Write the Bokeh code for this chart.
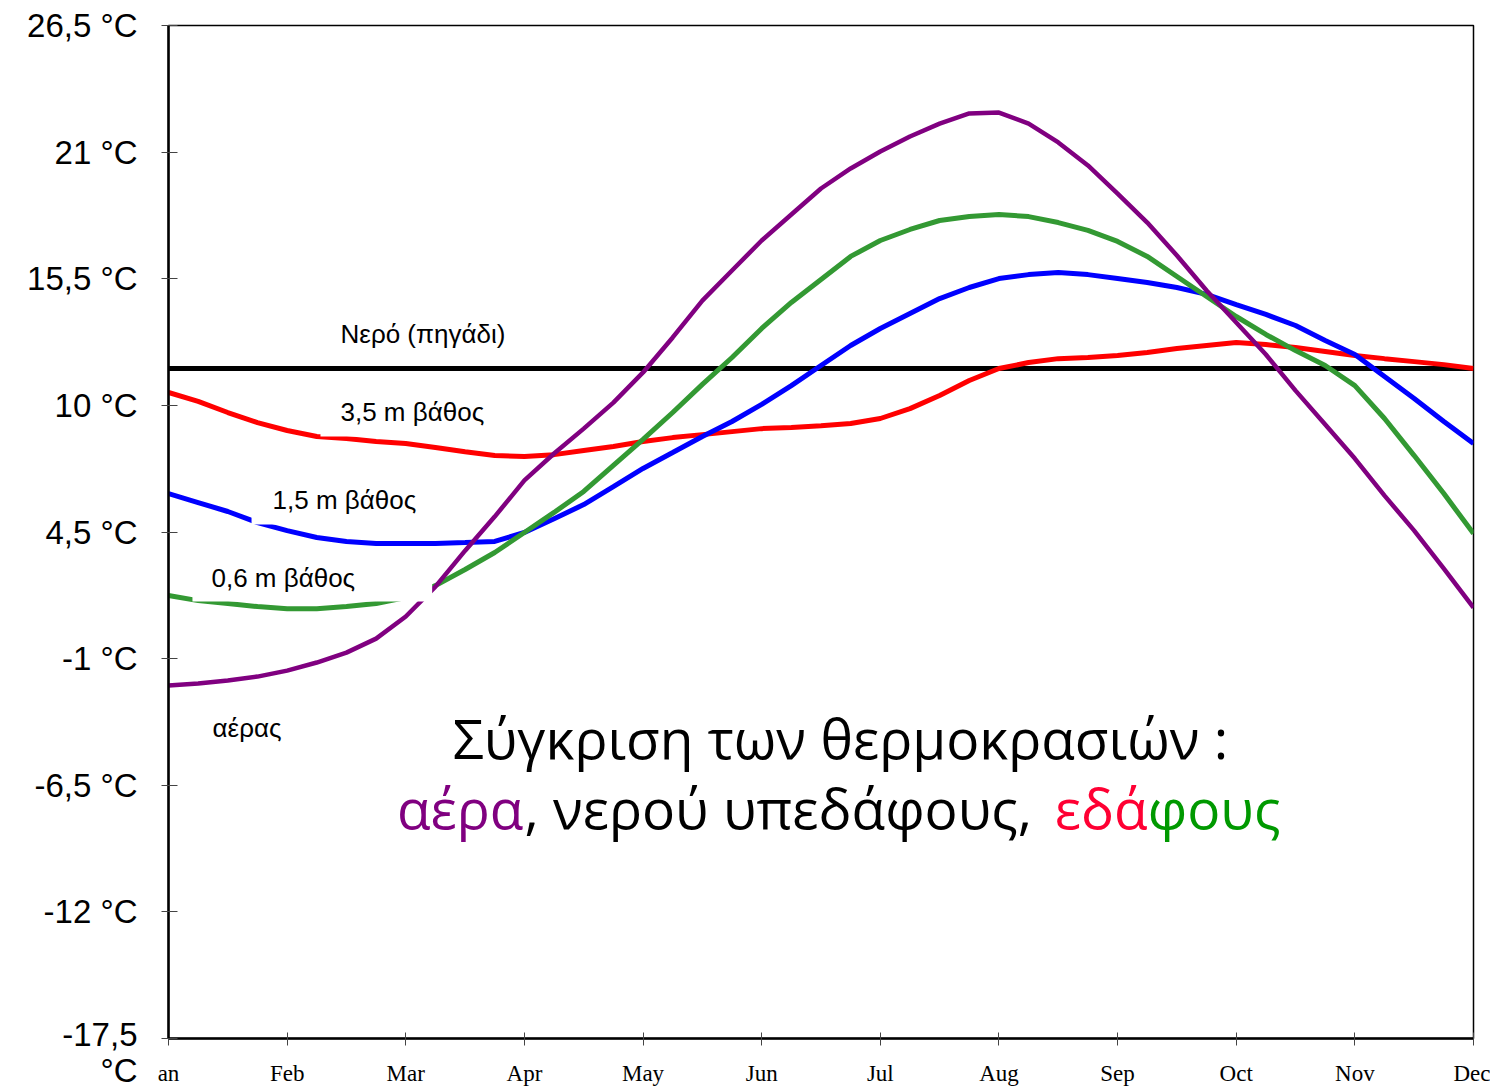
from bokeh.plotting import figure
from bokeh.models import Range1d, FixedTicker, Label
from bokeh.embed import file_html
from bokeh.resources import INLINE

# ---------------- data ----------------
months = ["Jan", "Feb", "Mar", "Apr", "May", "Jun", "Jul", "Aug", "Sep", "Oct", "Nov", "Dec"]
month_labels = ["an", "Feb", "Mar", "Apr", "May", "Jun", "Jul", "Aug", "Sep", "Oct", "Nov", "Dec"]

# time axis in months (0 = Jan ... 11 = Dec), quarter-month samples
t = [0, 0.25, 0.5, 0.75, 1, 1.25, 1.5, 1.75, 2, 2.25, 2.5, 2.75, 3, 3.25, 3.5, 3.75,
     4, 4.25, 4.5, 4.75, 5, 5.25, 5.5, 5.75, 6, 6.25, 6.5, 6.75, 7, 7.25, 7.5, 7.75,
     8, 8.25, 8.5, 8.75, 9, 9.25, 9.5, 9.75, 10, 10.25, 10.5, 10.75, 11]

air = [-2.17, -2.08, -1.95, -1.78, -1.52, -1.17, -0.74, -0.13, 0.83, 2.13, 3.69, 5.17,
       6.74, 7.91, 8.99, 10.12, 11.43, 12.95, 14.55, 15.86, 17.16, 18.29, 19.42, 20.29,
       21.03, 21.68, 22.24, 22.68, 22.72, 22.24, 21.42, 20.42, 19.20, 17.94, 16.51, 14.99,
       13.60, 12.21, 10.64, 9.17, 7.69, 6.08, 4.56, 2.91, 1.22]

soil_06 = [1.74, 1.52, 1.39, 1.26, 1.17, 1.17, 1.26, 1.39, 1.65, 2.17, 2.87, 3.61,
           4.48, 5.35, 6.26, 7.39, 8.52, 9.69, 10.91, 12.08, 13.34, 14.47, 15.47, 16.47,
           17.16, 17.64, 18.03, 18.20, 18.29, 18.20, 17.94, 17.60, 17.12, 16.47, 15.60, 14.73,
           13.86, 13.08, 12.38, 11.73, 10.86, 9.43, 7.82, 6.17, 4.43]

soil_15 = [6.17, 5.78, 5.39, 4.91, 4.56, 4.26, 4.09, 4.00, 4.00, 4.00, 4.04, 4.09,
           4.48, 5.08, 5.69, 6.47, 7.26, 7.95, 8.65, 9.30, 10.04, 10.86, 11.73, 12.60,
           13.34, 13.99, 14.64, 15.12, 15.51, 15.68, 15.77, 15.68, 15.51, 15.34, 15.12, 14.82,
           14.38, 13.95, 13.47, 12.82, 12.21, 11.25, 10.30, 9.30, 8.34]

soil_35 = [10.56, 10.17, 9.69, 9.25, 8.91, 8.65, 8.56, 8.43, 8.34, 8.17, 7.99, 7.82,
           7.78, 7.86, 8.04, 8.21, 8.43, 8.60, 8.73, 8.86, 8.99, 9.04, 9.12, 9.21,
           9.43, 9.86, 10.43, 11.08, 11.60, 11.86, 12.03, 12.08, 12.17, 12.30, 12.47, 12.60,
           12.73, 12.64, 12.51, 12.34, 12.17, 12.03, 11.90, 11.77, 11.60]

well_t = [0, 11]
well = [11.6, 11.6]

y_ticks = [-17.5, -12, -6.5, -1, 4.5, 10, 15.5, 21, 26.5]
y_tick_labels = [" \n-17,5\n°C", "-12 °C", "-6,5 °C", "-1 °C", "4,5 °C", "10 °C",
                 "15,5 °C", "21 °C", "26,5 °C"]

# ---------------- figure ----------------
p = figure(frame_width=1305, frame_height=1013, output_backend="svg", toolbar_location=None,
           x_range=Range1d(0, 11), y_range=Range1d(-17.5, 26.5),
           min_border_left=168, min_border_right=17, min_border_top=25, min_border_bottom=46)
p.grid.visible = False
p.background_fill_color = "white"
p.border_fill_color = "white"
p.outline_line_color = "#000000"
p.outline_line_width = 1.5

# y axis
ya = p.yaxis[0]
ya.ticker = FixedTicker(ticks=y_ticks)
ya.major_label_overrides = {k: v for k, v in zip(y_ticks, y_tick_labels)}
ya.major_label_text_font = "Liberation Sans"
ya.major_label_text_font_size = "33px"
ya.major_label_text_line_height = 0.95
ya.major_label_text_color = "black"
ya.major_label_standoff = 24
ya.axis_line_width = 2.5
ya.axis_line_color = "black"
ya.major_tick_in = 9
ya.major_tick_out = 7
ya.major_tick_line_color = "#444444"
ya.minor_tick_line_color = None

# x axis
xa = p.xaxis[0]
xa.ticker = FixedTicker(ticks=list(range(len(months))))
xa.major_label_overrides = {i: m for i, m in enumerate(month_labels)}
xa.major_label_text_font = "Liberation Serif"
xa.major_label_text_font_size = "23px"
xa.major_label_text_color = "black"
xa.major_label_standoff = 15
xa.axis_line_width = 2.5
xa.axis_line_color = "black"
xa.major_tick_in = 6
xa.major_tick_out = 7
xa.major_tick_line_color = "#444444"
xa.minor_tick_line_color = None

# ---------------- lines ----------------
p.line(well_t, well, line_color="black", line_width=5)
p.line(t, soil_35, line_color="#FF0000", line_width=5)
p.line(t, soil_15, line_color="#0000FF", line_width=5)
p.line(t, soil_06, line_color="#339933", line_width=5)
p.line(t, air, line_color="#800080", line_width=4.5)

# ---------------- labels ----------------
def lab(x, y, text, size="26px", font="Liberation Sans", color="black", align="left", **kw):
    l = Label(x=x, y=y, text=text, text_font=font, text_font_size=size, text_color=color,
              text_align=align, text_baseline="middle", **kw)
    p.add_layout(l)
    return l

boxed = dict(background_fill_color="white")
lab(1.45, 13.12, "Νερό (πηγάδι)")
lab(1.281, 9.60, "3,5 m βάθος", padding=dict(left=20, right=20, top=4, bottom=10), **boxed)
lab(0.70, 5.76, "1,5 m βάθος", padding=dict(left=21, right=20, top=4, bottom=9), **boxed)
lab(0.202, 2.41, "0,6 m βάθος", padding=dict(left=19, right=77, top=4, bottom=9), **boxed)
lab(0.371, -4.0, "αέρας")

# title
lab(5.664, -4.43, "Σύγκριση των θερμοκρασιών :", size="55px", font="Open Sans", align="center")
lab(1.925, -7.47, "αέρα", size="55px", font="Open Sans", color="#800080")
lab(3.0, -7.47, ", νερού υπεδάφους, ", size="55px", font="Open Sans")
lab(7.47, -7.47, "εδά", size="55px", font="Open Sans", color="#FF0033")
lab(8.255, -7.47, "φους", size="55px", font="Open Sans", color="#009900")

open("out.html", "w").write(file_html(p, INLINE))
